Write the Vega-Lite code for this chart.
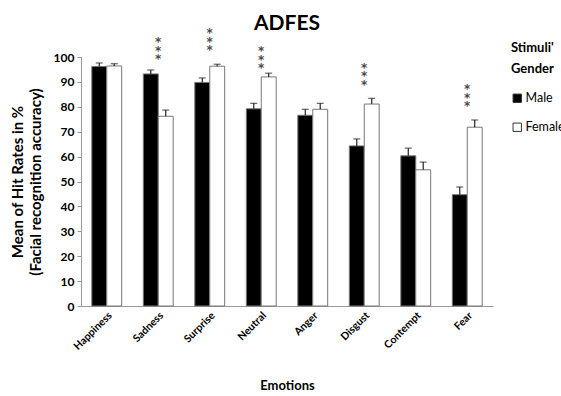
{
  "$schema": "https://vega.github.io/schema/vega-lite/v6.json",
  "autosize": "none",
  "width": 412,
  "height": 249,
  "padding": {"left": 81, "top": 57, "right": 68, "bottom": 90},
  "background": "white",
  "config": {
    "view": {"stroke": null},
    "font": "Lato",
    "text": {"lineBreak": "\n"},
    "axisY": {
      "titleFontSize": 15,
      "titleFontWeight": "bold",
      "titleColor": "black",
      "titlePadding": 10,
      "titleLineHeight": 18,
      "tickCount": 10,
      "labelOverlap": false,
      "labelFontSize": 12,
      "labelFontWeight": "bold",
      "labelColor": "black",
      "labelPadding": 3,
      "tickSize": 4,
      "tickColor": "#999",
      "domainColor": "#999",
      "grid": false
    },
    "axisX": {
      "titleFontSize": 13,
      "titleFontWeight": "bold",
      "titleColor": "black",
      "titlePadding": 28,
      "labelAngle": -45,
      "labelFontSize": 10.5,
      "labelFontWeight": "bold",
      "labelColor": "black",
      "labelPadding": 4,
      "domainColor": "#999",
      "ticks": false,
      "grid": false
    }
  },
  "title": {
    "text": "ADFES",
    "fontSize": 21,
    "fontWeight": "bold",
    "font": "Lato",
    "anchor": "middle",
    "offset": -7,
    "color": "black"
  },
  "datasets": {
    "bars": [
      {"emotion": "Happiness", "gender": "Male", "value": 96.2, "err": 1.4},
      {"emotion": "Happiness", "gender": "Female", "value": 96.4, "err": 0.9},
      {"emotion": "Sadness", "gender": "Male", "value": 93.2, "err": 1.6},
      {"emotion": "Sadness", "gender": "Female", "value": 76.2, "err": 2.5},
      {"emotion": "Surprise", "gender": "Male", "value": 89.8, "err": 1.8},
      {"emotion": "Surprise", "gender": "Female", "value": 96.3, "err": 0.8},
      {"emotion": "Neutral", "gender": "Male", "value": 79.2, "err": 2.2},
      {"emotion": "Neutral", "gender": "Female", "value": 92.0, "err": 1.5},
      {"emotion": "Anger", "gender": "Male", "value": 76.6, "err": 2.4},
      {"emotion": "Anger", "gender": "Female", "value": 79.0, "err": 2.4},
      {"emotion": "Disgust", "gender": "Male", "value": 64.3, "err": 2.8},
      {"emotion": "Disgust", "gender": "Female", "value": 81.1, "err": 2.3},
      {"emotion": "Contempt", "gender": "Male", "value": 60.3, "err": 3.1},
      {"emotion": "Contempt", "gender": "Female", "value": 54.7, "err": 3.1},
      {"emotion": "Fear", "gender": "Male", "value": 44.7, "err": 3.1},
      {"emotion": "Fear", "gender": "Female", "value": 71.8, "err": 2.9}
    ],
    "stars": [
      {"emotion": "Sadness", "pos": 104.4, "mark": "*\n*\n*"},
      {"emotion": "Surprise", "pos": 108.0, "mark": "*\n*\n*"},
      {"emotion": "Neutral", "pos": 100.8, "mark": "*\n*\n*"},
      {"emotion": "Disgust", "pos": 94.0, "mark": "*\n*\n*"},
      {"emotion": "Fear", "pos": 85.5, "mark": "*\n*\n*"}
    ]
  },
  "layer": [
    {
      "data": {"name": "bars"},
      "transform": [{"calculate": "datum.value + datum.err", "as": "hi"}],
      "layer": [
        {
          "mark": {"type": "bar", "stroke": "#777", "strokeWidth": 1},
          "encoding": {
            "x": {
              "field": "emotion", "type": "nominal", "sort": null,
              "scale": {"paddingInner": 0.42, "paddingOuter": 0.21},
              "axis": {"title": "Emotions"}
            },
            "xOffset": {"field": "gender", "type": "nominal", "sort": ["Male", "Female"], "scale": {"paddingInner": 0, "paddingOuter": 0}},
            "y": {
              "field": "value", "type": "quantitative",
              "scale": {"domain": [0, 100]},
              "axis": {"title": ["Mean of Hit Rates in %", "(Facial recognition accuracy)"]}
            },
            "fill": {
              "field": "gender", "type": "nominal",
              "scale": {"domain": ["Male", "Female"], "range": ["black", "white"]},
              "legend": {
                "title": ["Stimuli'", "Gender"],
                "orient": "none",
                "legendX": 430,
                "legendY": -15,
                "titleFontSize": 13,
                "titleFontWeight": "bold",
                "titleColor": "black",
                "titleLineHeight": 21,
                "titlePadding": 16,
                "labelFontSize": 12.5,
                "labelColor": "black",
                "labelOffset": 2,
                "symbolType": "square",
                "symbolSize": 70,
                "symbolStrokeColor": "#333",
                "symbolStrokeWidth": 1,
                "rowPadding": 16,
                "padding": 0
              }
            }
          }
        },
        {
          "mark": {"type": "rule", "strokeWidth": 1.2, "color": "#222"},
          "encoding": {
            "x": {"field": "emotion", "type": "nominal", "sort": null},
            "xOffset": {"field": "gender", "type": "nominal", "sort": ["Male", "Female"]},
            "y": {"field": "value", "type": "quantitative"},
            "y2": {"field": "hi"}
          }
        },
        {
          "mark": {"type": "tick", "orient": "horizontal", "size": 7, "thickness": 1.2, "color": "#222"},
          "encoding": {
            "x": {"field": "emotion", "type": "nominal", "sort": null},
            "xOffset": {"field": "gender", "type": "nominal", "sort": ["Male", "Female"]},
            "y": {"field": "hi", "type": "quantitative"}
          }
        }
      ]
    },
    {
      "data": {"name": "stars"},
      "mark": {"type": "text", "fontSize": 12, "lineHeight": 8.5, "color": "#4a4a4a", "baseline": "middle", "dy": -4, "font": "DejaVu Sans", "fontWeight": "bold"},
      "encoding": {
        "x": {"field": "emotion", "type": "nominal", "sort": null},
        "y": {"field": "pos", "type": "quantitative"},
        "text": {"field": "mark"}
      }
    }
  ]
}
